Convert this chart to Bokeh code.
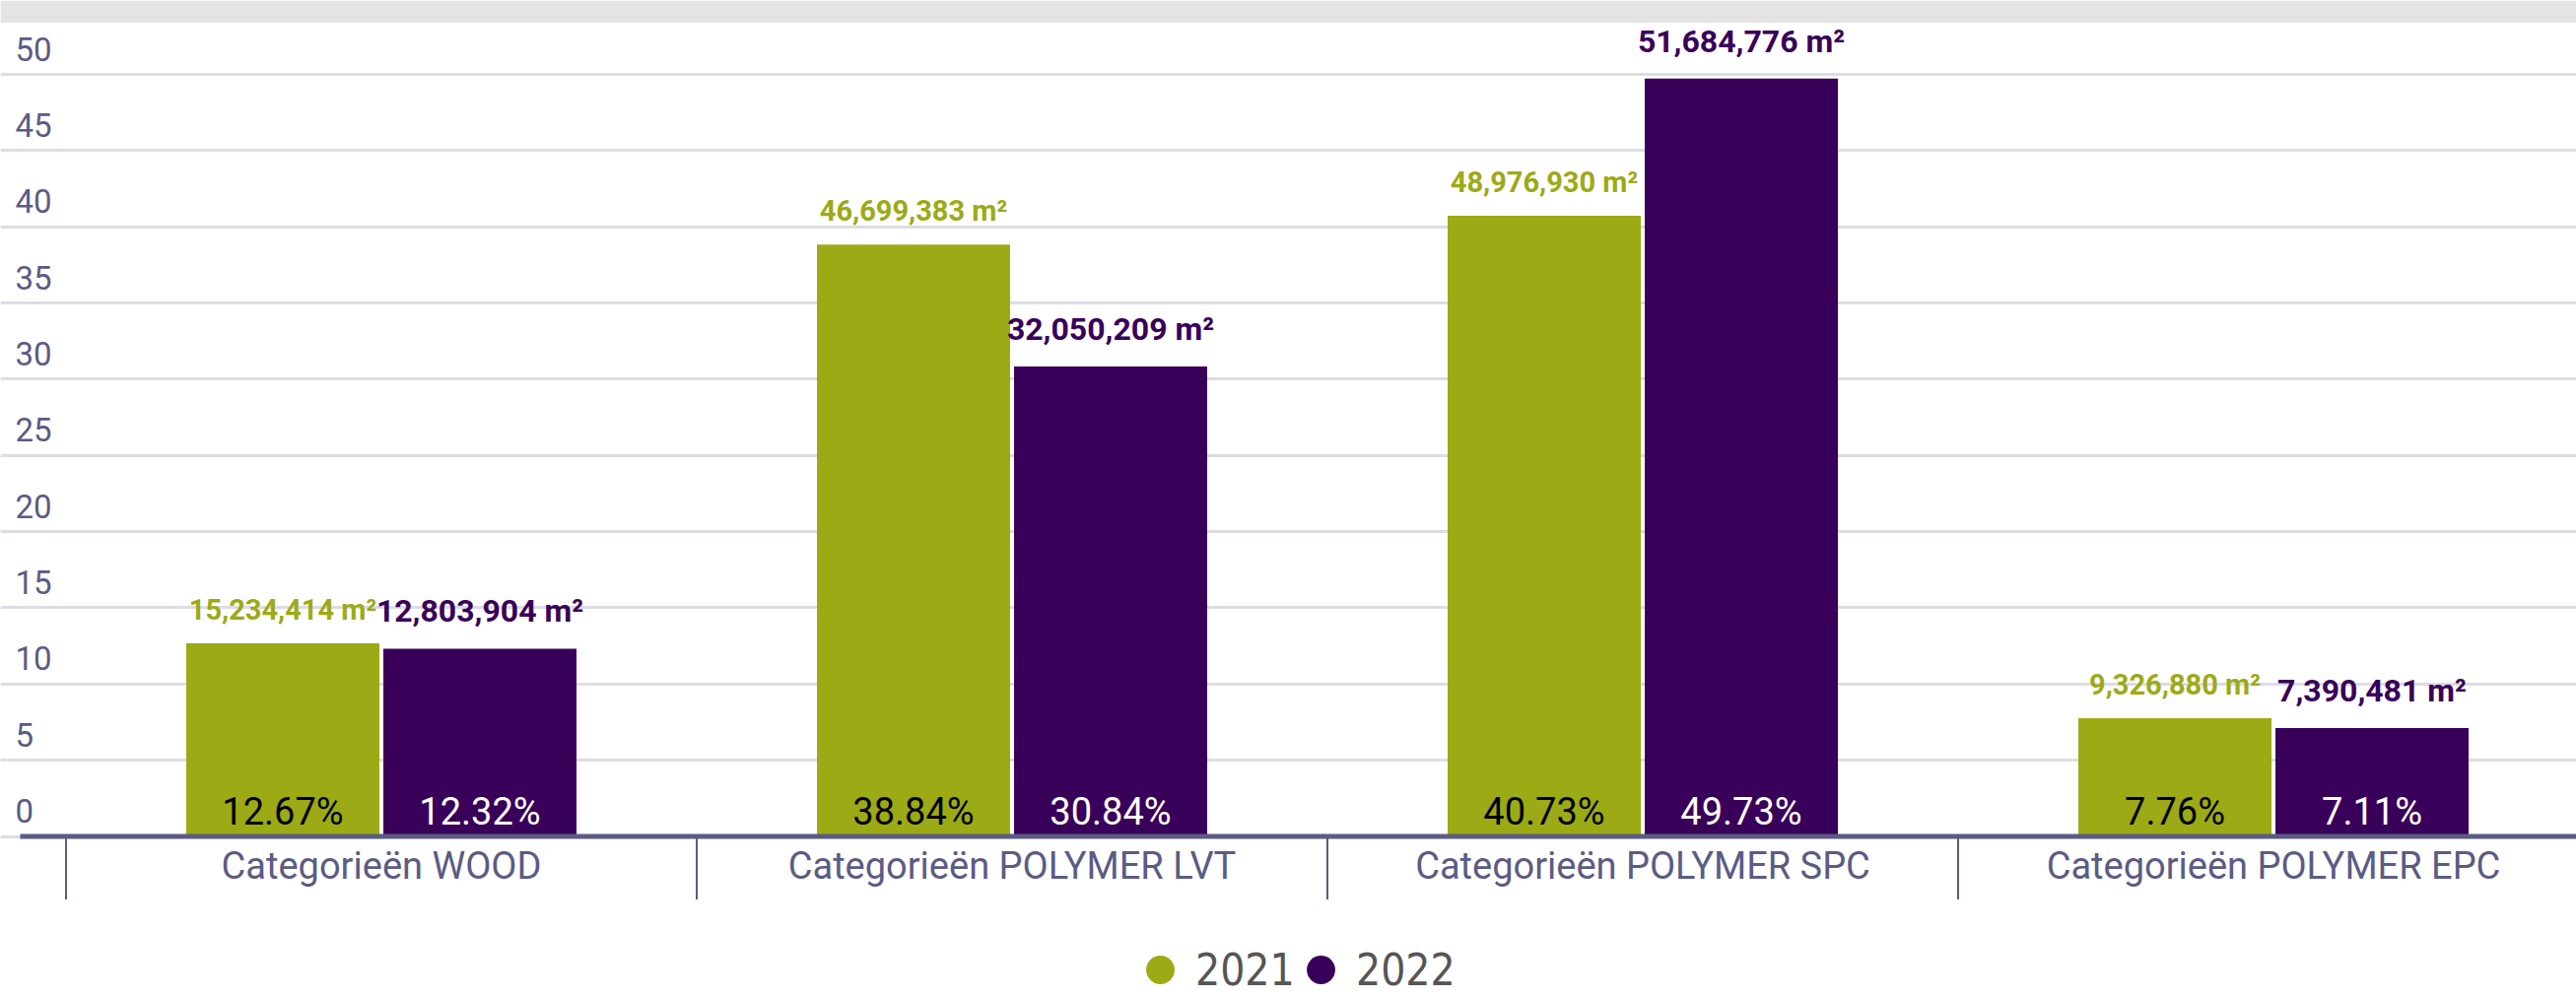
from bokeh.plotting import figure
from bokeh.models import (ColumnDataSource, Grid, FixedTicker, BoxAnnotation,
                          Legend, LegendItem, Range1d)
from bokeh.transform import dodge
from bokeh.core.properties import value
from bokeh.embed import file_html
from bokeh.resources import INLINE

# ---------------- data ----------------
categories = ["Categorieën WOOD", "Categorieën POLYMER LVT",
              "Categorieën POLYMER SPC", "Categorieën POLYMER EPC"]
years = ["2021", "2022"]
share_2021 = [12.67, 38.84, 40.73, 7.76]      # % (bar heights)
share_2022 = [12.32, 30.84, 49.73, 7.11]
area_2021 = [15234414, 46699383, 48976930, 9326880]   # m2
area_2022 = [12803904, 32050209, 51684776, 7390481]
y_ticks = [0, 5, 10, 15, 20, 25, 30, 35, 40, 45, 50]
y_tick_labels = [str(t) for t in y_ticks]

# ---------------- style / layout ----------------
C21 = "#9caa16"
C22 = "#390059"
AXIS_C = "#5b5b84"
GRID_C = "#dcdce6"
COND = "'DejaVu Sans Condensed', Roboto"

W, H = 2614, 1012
CAT_PX = 640.0          # pixels per category
X0_PX = 66.5            # first category boundary (px from left)
Y0_PX = 848.5           # y = 0 (px from top)
Y50_PX = 75.0           # y = 50
SCALE = (Y0_PX - Y50_PX) / 50.0

def px_x(px):
    return (px - X0_PX) / CAT_PX

x_range = Range1d(px_x(0), px_x(W))
y_range = Range1d(-(H - Y0_PX) / SCALE, Y0_PX / SCALE)

p = figure(width=W, height=H, x_range=x_range, y_range=y_range,
           x_axis_type=None, y_axis_type=None, title=None,
           toolbar_location=None, output_backend="svg",
           min_border=0, outline_line_color=None,
           background_fill_color="white", border_fill_color="white")

# top grey band of the page
p.add_layout(BoxAnnotation(bottom=(Y0_PX - 22.5) / SCALE, fill_color="#e4e4e4",
                           fill_alpha=1, line_color=None, level="underlay"))

p.add_layout(Grid(dimension=1, ticker=FixedTicker(ticks=y_ticks),
                  grid_line_color=GRID_C, grid_line_width=3))

src = ColumnDataSource(dict(
    x=[i + 0.5 for i in range(len(categories))],
    cat=categories,
    s21=share_2021, s22=share_2022,
    lab21=[f"{v:,} m²" for v in area_2021],
    lab22=[f"{v:,} m²" for v in area_2022],
    pct21=[f"{v:.2f}%" for v in share_2021],
    pct22=[f"{v:.2f}%" for v in share_2022],
))

OFF = 100 / CAT_PX
BW = 196 / CAT_PX

p.vbar(x=dodge("x", -OFF), top="s21", bottom=0, width=BW, source=src,
       fill_color=C21, line_color=None)
p.vbar(x=dodge("x", OFF), top="s22", bottom=0, width=BW, source=src,
       fill_color=C22, line_color=None)

# value labels
p.text(x=dodge("x", -OFF), y="s21", text="lab21", source=src,
       text_font=value("Roboto"), text_font_style="bold", text_font_size="29px",
       text_color=C21, text_align="center", text_baseline="alphabetic",
       y_offset=-34)
p.text(x=dodge("x", OFF), y="s22", text="lab22", source=src,
       text_font=value("Roboto"), text_font_style="bold", text_font_size="32px",
       text_color=C22, text_align="center", text_baseline="alphabetic",
       y_offset=-38)

# percentage labels inside bars
p.text(x=dodge("x", -OFF), y=0, text="pct21", source=src,
       text_font=value("Roboto"), text_font_size="38px", text_color="#000000",
       text_align="center", text_baseline="alphabetic", y_offset=-25)
p.text(x=dodge("x", OFF), y=0, text="pct22", source=src,
       text_font=value("Roboto"), text_font_size="38px", text_color="#ffffff",
       text_align="center", text_baseline="alphabetic", y_offset=-25)

# category boundary ticks and x axis line
bounds = list(range(len(categories) + 1))
p.segment(x0=bounds, y0=[0] * len(bounds), x1=bounds,
          y1=[-64 / SCALE] * len(bounds), line_color=AXIS_C, line_width=2)
p.segment(x0=[px_x(20)], y0=[0], x1=[px_x(W)], y1=[0],
          line_color=AXIS_C, line_width=5)

# category labels
p.text(x="x", y=0, text="cat", source=src, text_font=value("Roboto"),
       text_font_size="38px", text_color=AXIS_C, text_align="center",
       text_baseline="middle", y_offset=30)

# y tick labels (above grid lines, inside plot)
tsrc = ColumnDataSource(dict(v=y_ticks, t=y_tick_labels))
p.text(x=px_x(15), y="v", text="t", source=tsrc, text_font=value("Roboto"),
       text_font_size="33px", text_color=AXIS_C, text_align="left",
       text_baseline="middle", y_offset=-26)

# legend (one small legend per series, side by side)
nan = float("nan")
r21 = p.scatter(x=[nan], y=[nan], marker="circle", size=10,
                fill_color=C21, line_color=None)
r22 = p.scatter(x=[nan], y=[nan], marker="circle", size=10,
                fill_color=C22, line_color=None)
for label, rend, lx in [(years[0], r21, 1141), (years[1], r22, 1304)]:
    lg = Legend(items=[LegendItem(label=label, renderers=[rend])],
                orientation="horizontal", location=(lx, -10),
                glyph_width=72, glyph_height=76, label_standoff=0,
                spacing=0, padding=0, margin=0, border_line_color=None,
                background_fill_alpha=0, label_text_font=COND,
                label_text_font_size="44px", label_text_color="#555555")
    p.add_layout(lg)

open("out.html", "w").write(file_html(p, INLINE))
